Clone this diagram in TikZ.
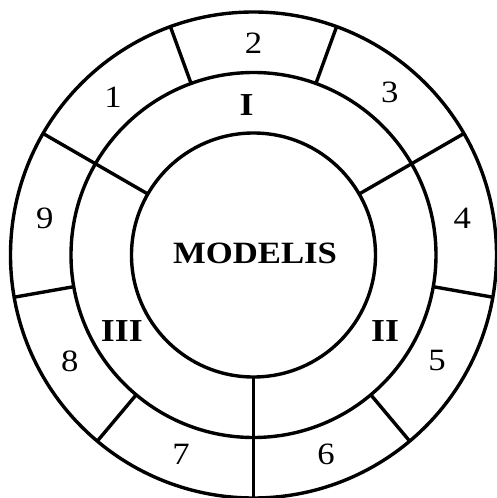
\documentclass[tikz,border=0pt]{standalone}
\usepackage{fontspec}
\setmainfont{Liberation Serif}[FakeStretch=1.12]
\begin{document}
\begin{tikzpicture}[x=1pt,y=1pt,
  ring/.style={line width=3.4pt},
  digit/.style={font=\fontsize{31}{31}\selectfont, inner sep=0pt},
  roman/.style={font=\fontsize{32}{32}\selectfont\bfseries, inner sep=0pt},
  title/.style={font=\fontsize{31}{31}\selectfont\bfseries, inner sep=0pt}]
\useasboundingbox (-253.5,-243) rectangle (243.5,255);
\def\ri{122}\def\rm{182.5}\def\ro{243}
\draw[ring] (0,0) circle[radius=\ri];
\draw[ring] (0,0) circle[radius=\rm];
\draw[ring] (0,0) circle[radius=\ro];
% dividers across both rings
\foreach \a in {30,150,270}
  \draw[ring] (\a:\ri) -- (\a:\ro);
\draw[ring] (270:\ro) -- (270:250);
% outer ring dividers
\foreach \a in {70,110,190,230,310,350}
  \draw[ring] (\a:\rm) -- (\a:\ro);
% outer labels
\node[digit] (n1) at (-140.5,158) {1};
\node[digit] (n2) at (90:212) {2};
\node[digit] (n3) at (50:212) {3};
\node[digit] (n4) at (10:212) {4};
\node[digit] (n5) at (-30:212) {5};
\node[digit] (n6) at (-70:212) {6};
\node[digit] (n7) at (-110:212) {7};
\node[digit] (n8) at (-150:212) {8};
\node[digit] (n9) at (170:212) {9};
% roman labels
\node[roman] (rI) at (-7,150) {I};
\node[roman] (rII) at (-30:152) {II};
\node[roman] (rIII) at (-150:152) {III};
\node[title] (m) at (1.5,2) {MODELIS};
\end{tikzpicture}
\end{document}
